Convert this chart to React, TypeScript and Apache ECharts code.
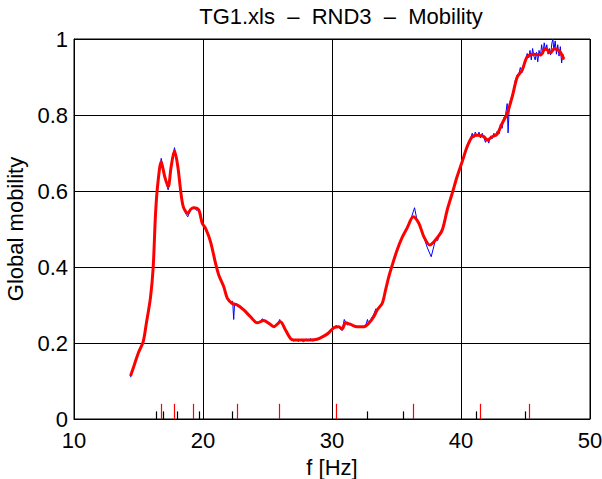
import React, { useEffect, useRef } from "react";
import * as echarts from "echarts";

const titleText = "TG1.xls  \u2013  RND3  \u2013  Mobility";
const xName = "f [Hz]";
const yName = "Global mobility";

// smoothed curve (red)
const smoothCurve: [number, number][] = [
  [14.38, 0.113], [14.7, 0.145], [15.0, 0.175], [15.36, 0.203], [15.6, 0.25], [15.93, 0.32],
  [16.14, 0.4], [16.32, 0.54], [16.5, 0.62], [16.76, 0.677], [17.04, 0.637], [17.3, 0.611],
  [17.53, 0.664], [17.79, 0.706], [18.05, 0.664], [18.26, 0.603], [18.47, 0.559], [18.82, 0.541],
  [19.05, 0.552], [19.29, 0.556], [19.67, 0.55], [19.94, 0.515], [20.19, 0.502], [20.58, 0.467],
  [20.97, 0.41], [21.22, 0.379], [21.61, 0.348], [21.88, 0.318], [22.26, 0.304], [22.65, 0.3],
  [23.16, 0.287], [23.68, 0.269], [24.2, 0.253], [24.71, 0.259], [25.1, 0.252], [25.49, 0.243],
  [26.0, 0.256], [26.4, 0.234], [26.78, 0.212], [27.04, 0.208], [27.56, 0.208], [28.33, 0.208],
  [28.85, 0.21], [29.36, 0.218], [29.75, 0.227], [30.14, 0.24], [30.53, 0.243], [30.79, 0.237],
  [31.05, 0.253], [31.43, 0.249], [31.95, 0.243], [32.47, 0.243], [32.85, 0.252], [33.24, 0.269],
  [33.5, 0.287], [33.89, 0.304], [34.15, 0.339], [34.4, 0.374], [34.67, 0.405], [35.05, 0.445],
  [35.44, 0.478], [35.83, 0.503], [36.3, 0.532], [36.73, 0.515], [37.12, 0.48], [37.58, 0.458],
  [38.02, 0.471], [38.54, 0.497], [38.93, 0.55], [39.32, 0.594], [39.7, 0.638], [40.09, 0.677],
  [40.48, 0.717], [40.87, 0.743], [41.26, 0.747], [41.77, 0.743], [42.03, 0.734], [42.42, 0.743],
  [42.81, 0.75], [43.19, 0.778], [43.58, 0.804], [43.97, 0.848], [44.36, 0.9], [44.74, 0.918],
  [45.13, 0.953], [45.65, 0.96], [46.16, 0.958], [46.55, 0.975], [46.94, 0.964], [47.25, 0.975],
  [47.66, 0.967], [47.97, 0.947],
];

// raw measurement (blue)
const rawCurve: [number, number][] = [
  [14.38, 0.11], [14.7, 0.145], [15.0, 0.176], [15.36, 0.203], [15.6, 0.25], [15.93, 0.32],
  [16.14, 0.4], [16.32, 0.54], [16.5, 0.625], [16.76, 0.686], [17.04, 0.636], [17.3, 0.603],
  [17.53, 0.664], [17.79, 0.714], [18.05, 0.664], [18.26, 0.6], [18.47, 0.556], [18.7, 0.538],
  [18.82, 0.532], [19.05, 0.552], [19.29, 0.558], [19.5, 0.549], [19.67, 0.553], [19.8, 0.545],
  [19.94, 0.515], [20.19, 0.502], [20.58, 0.466], [20.97, 0.41], [21.22, 0.379], [21.61, 0.348],
  [21.88, 0.316], [22.1, 0.306], [22.3, 0.31], [22.38, 0.262], [22.45, 0.305], [22.65, 0.302],
  [22.9, 0.298], [23.16, 0.287], [23.4, 0.28], [23.68, 0.268], [23.9, 0.262], [24.2, 0.253],
  [24.45, 0.255], [24.6, 0.264], [24.71, 0.257], [24.9, 0.259], [25.1, 0.25], [25.3, 0.247],
  [25.49, 0.243], [25.8, 0.252], [25.95, 0.262], [26.0, 0.256], [26.2, 0.245], [26.4, 0.234],
  [26.6, 0.22], [26.78, 0.21], [27.04, 0.205], [27.2, 0.21], [27.4, 0.204], [27.56, 0.209],
  [27.8, 0.203], [28.0, 0.211], [28.15, 0.205], [28.33, 0.212], [28.5, 0.205], [28.7, 0.208],
  [28.85, 0.21], [29.1, 0.214], [29.36, 0.218], [29.55, 0.221], [29.75, 0.228], [29.95, 0.236],
  [30.14, 0.242], [30.35, 0.246], [30.53, 0.24], [30.79, 0.233], [30.95, 0.262], [31.05, 0.255],
  [31.2, 0.247], [31.43, 0.252], [31.6, 0.245], [31.95, 0.242], [32.2, 0.243], [32.47, 0.24],
  [32.65, 0.25], [32.75, 0.262], [32.85, 0.25], [33.0, 0.262], [33.24, 0.276], [33.4, 0.29],
  [33.5, 0.283], [33.7, 0.3], [33.89, 0.305], [34.15, 0.338], [34.4, 0.374], [34.67, 0.405],
  [35.05, 0.445], [35.44, 0.478], [35.83, 0.505], [36.1, 0.525], [36.4, 0.556], [36.6, 0.522],
  [36.73, 0.515], [37.12, 0.478], [37.4, 0.45], [37.69, 0.427], [37.9, 0.455], [38.02, 0.472],
  [38.2, 0.47], [38.3, 0.485], [38.54, 0.5], [38.93, 0.552], [39.32, 0.594], [39.7, 0.636],
  [40.09, 0.677], [40.48, 0.72], [40.7, 0.735], [40.87, 0.752], [41.0, 0.74], [41.1, 0.755],
  [41.26, 0.745], [41.4, 0.755], [41.5, 0.74], [41.65, 0.752], [41.77, 0.74], [41.9, 0.728],
  [42.03, 0.738], [42.15, 0.726], [42.3, 0.745], [42.42, 0.738], [42.55, 0.752], [42.7, 0.744],
  [42.81, 0.758], [42.95, 0.75], [43.05, 0.775], [43.19, 0.765], [43.3, 0.792], [43.45, 0.8],
  [43.58, 0.83], [43.65, 0.753], [43.75, 0.83], [43.97, 0.852], [44.1, 0.87], [44.2, 0.89],
  [44.36, 0.905], [44.5, 0.91], [44.6, 0.925], [44.74, 0.912], [44.9, 0.93], [45.0, 0.945],
  [45.13, 0.962], [45.25, 0.95], [45.35, 0.97], [45.45, 0.945], [45.55, 0.975], [45.65, 0.955],
  [45.75, 0.945], [45.85, 0.965], [45.95, 0.94], [46.05, 0.97], [46.16, 0.955], [46.25, 0.985],
  [46.35, 0.96], [46.45, 0.99], [46.55, 0.97], [46.65, 0.985], [46.75, 0.96], [46.85, 0.975],
  [46.94, 0.958], [47.05, 0.99], [47.12, 1.0], [47.2, 0.97], [47.3, 0.995], [47.4, 0.96],
  [47.5, 0.985], [47.6, 0.955], [47.7, 0.98], [47.8, 0.937], [47.9, 0.96], [47.97, 0.945],
];

// marker positions along the frequency axis
const peakMarks = [16.78, 17.79, 19.26, 22.67, 25.93, 30.35, 36.32, 41.51, 45.31];
const peakMarkHeight = 0.04;
const valleyMarks = [16.4, 16.94, 18.02, 19.73, 22.29, 32.75, 35.54, 41.2, 45.0];
const valleyMarkHeight = 0.02;

const xMin = 10;
const xMax = 50;
const xStep = 10;
const yMin = 0;
const yMax = 1;
const yStep = 0.2;

const FONT = "'Liberation Sans', Arial, Helvetica, sans-serif";

export default function App() {
  const ref = useRef<HTMLDivElement>(null);

  useEffect(() => {
    if (!ref.current) return;
    const chart = echarts.init(ref.current, undefined, { renderer: "svg" });

    const peakData = peakMarks.map((f) => [{ coord: [f, 0] }, { coord: [f, peakMarkHeight] }]);
    const valleyData = valleyMarks.map((f) => [{ coord: [f, 0] }, { coord: [f, valleyMarkHeight] }]);

    chart.setOption({
      animation: false,
      backgroundColor: "#ffffff",
      textStyle: { fontFamily: FONT },
      title: {
        text: titleText,
        left: 336,
        top: 0,
        textAlign: "center",
        textStyle: { fontFamily: FONT, fontSize: 22, fontWeight: "normal", color: "#000" },
      },
      grid: {
        left: 74,
        right: 12,
        top: 39,
        bottom: 60,
        outerBoundsMode: "none",
        containLabel: false,
        show: true,
        borderColor: "#000",
        borderWidth: 1,
        backgroundColor: "transparent",
      },
      xAxis: {
        type: "value",
        min: xMin,
        max: xMax,
        interval: xStep,
        name: xName,
        nameLocation: "middle",
        nameGap: 37,
        nameTextStyle: { fontFamily: FONT, fontSize: 22, color: "#000" },
        axisLine: { show: true, lineStyle: { color: "#000", width: 1 } },
        axisTick: { show: true, inside: true, length: 5, lineStyle: { color: "#000" } },
        axisLabel: { fontFamily: FONT, fontSize: 22, color: "#000", margin: 10 },
        splitLine: { show: true, lineStyle: { color: "#000", width: 1 } },
      },
      yAxis: {
        type: "value",
        min: yMin,
        max: yMax,
        interval: yStep,
        name: yName,
        nameLocation: "middle",
        nameGap: 42,
        nameTextStyle: { fontFamily: FONT, fontSize: 22, color: "#000" },
        axisLine: { show: true, lineStyle: { color: "#000", width: 1 } },
        axisTick: { show: true, inside: true, length: 5, lineStyle: { color: "#000" } },
        axisLabel: {
          fontFamily: FONT,
          fontSize: 22,
          color: "#000",
          margin: 6,
          formatter: (v: number) => String(Math.round(v * 10) / 10),
        },
        splitLine: { show: true, lineStyle: { color: "#000", width: 1 } },
      },
      series: [
        {
          name: "raw",
          type: "line",
          data: rawCurve,
          showSymbol: false,
          symbol: "none",
          lineStyle: { color: "#0000ff", width: 1 },
          z: 2,
          clip: true,
        },
        {
          name: "smooth",
          type: "line",
          data: smoothCurve,
          showSymbol: false,
          symbol: "none",
          smooth: 0.3,
          lineStyle: { color: "#ff0000", width: 3 },
          z: 3,
          clip: true,
        },
        {
          name: "peakMarks",
          type: "line",
          data: [],
          symbol: "none",
          z: 4,
          markLine: {
            silent: true,
            symbol: ["none", "none"],
            label: { show: false },
            lineStyle: { color: "#ff0000", width: 1.2, type: "solid" },
            animation: false,
            data: peakData,
          },
        },
        {
          name: "valleyMarks",
          type: "line",
          data: [],
          symbol: "none",
          z: 4,
          markLine: {
            silent: true,
            symbol: ["none", "none"],
            label: { show: false },
            lineStyle: { color: "#000000", width: 1.2, type: "solid" },
            animation: false,
            data: valleyData,
          },
        },
      ],
    });

    return () => {
      chart.dispose();
    };
  }, []);

  return (
    <div
      ref={ref}
      style={{ position: "fixed", left: 0, top: 0, width: 602, height: 479, background: "#fff" }}
    />
  );
}
